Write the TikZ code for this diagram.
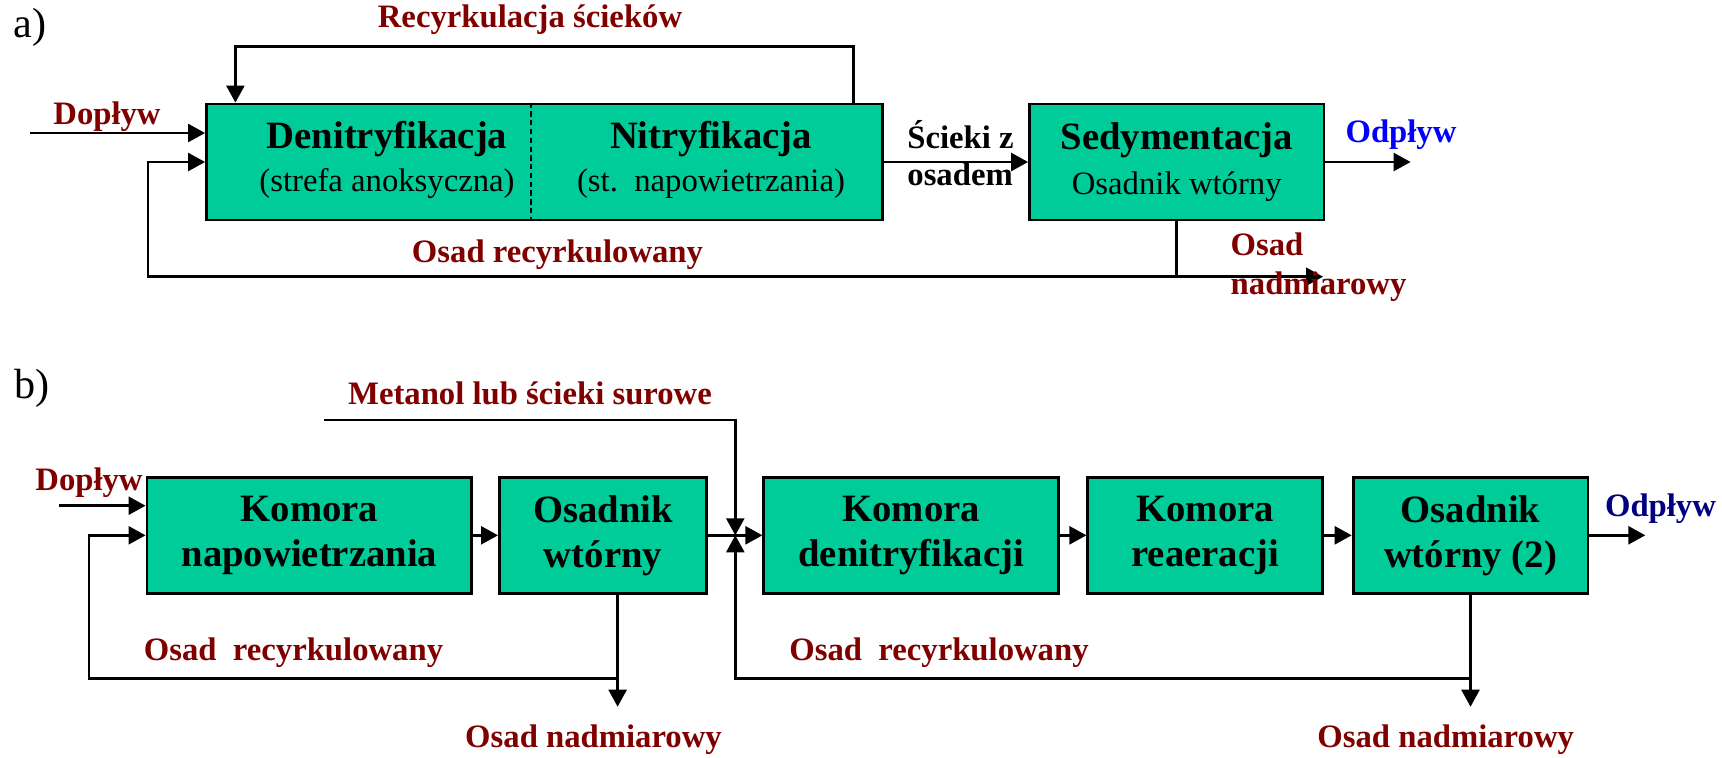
\documentclass[tikz,border=0pt]{standalone}
\usepackage{fontspec}
\setmainfont{Liberation Serif}
\usepackage{tikz}
\usetikzlibrary{arrows.meta,positioning,calc}
\definecolor{tankgreen}{RGB}{0,204,153}
\definecolor{lbl}{RGB}{128,0,0}
\definecolor{outblue}{RGB}{0,0,255}
\definecolor{outnavy}{RGB}{0,0,128}
\tikzstyle{arr}      =[-{Triangle[length=1.7mm,width=1.8mm]}, line width=0.7pt]
\tikzstyle{line}     =[line width=0.7pt]
\tikzstyle{tank}     =[draw, line width=0.8pt, fill=tankgreen, minimum height=1.16cm, align=center, inner sep=0pt,
                       font=\fontsize{11}{12.8}\selectfont\bfseries]
\tikzstyle{tanktxt}  =[align=center, inner sep=0pt, font=\fontsize{11}{12.4}\selectfont\bfseries]
\tikzstyle{lab}      =[text=lbl, inner sep=0pt, font=\fontsize{9.3}{11}\selectfont\bfseries]
\newcommand{\subtxt}{\mdseries\fontsize{9.3}{11}\selectfont}

\begin{document}
\begin{tikzpicture}[x=0.01cm, y=-0.01cm]
  \useasboundingbox (0,0) rectangle (1722,757);

  % ── a) ─────────────────────────────────────────────────────────────────────
  \node[inner sep=0pt, font=\fontsize{12}{14}\selectfont] (capA) at (30,27) {a)};

  \node[tank, minimum width=6.756cm] (reactor) at (544.5,162) {};
  \coordinate (split) at (531,162);
  \draw[dash pattern=on 1.5pt off 1pt, line width=0.6pt] (split |- reactor.north) -- (split |- reactor.south);
  \node[tanktxt] (deni)  at (387,160) {Denitryfikacja\\{\subtxt (strefa anoksyczna)}};
  \node[tanktxt] (nitri) at (711,160) {Nitryfikacja\\{\subtxt (st.\ \ napowietrzania)}};

  \node[tank, minimum width=2.943cm] (sed) at (1176.75,162) {Sedymentacja\\{\subtxt Osadnik wtórny}};

  \coordinate (inA)   at (30,133);
  \coordinate (recL)  at (235.4,46.7);
  \coordinate (recR)  at (853.6,46.7);
  \coordinate (jA)    at (1176.5,276.7);
  \coordinate (retA)  at (148,276.7);
  \coordinate (excA)  at (1323,276.7);
  \coordinate (outA)  at (1410.6,162);

  \draw[arr] (inA) -- (inA -| reactor.west);
  \draw[arr] (recR |- reactor.north) -- (recR) -- (recL) -- (recL |- reactor.north);
  \draw[arr] (reactor.east) -- (sed.west);
  \draw[arr] (sed.east) -- (outA);
  \draw[line] (jA |- sed.south) -- (jA);
  \draw[arr] (jA) -- (retA) |- (reactor.west);
  \draw[arr] (jA) -- (excA);

  \node[lab] (recLab) at (530,20) {Recyrkulacja ścieków};
  \node[lab] (inLabA) at (107,117) {Dopływ};
  \node[lab] (retLabA) at (557.5,255) {Osad recyrkulowany};
  \node[lab, text=black, align=left, anchor=west, font=\fontsize{9.3}{10.4}\selectfont\bfseries]
    (midLab) at (906.7,153) {Ścieki z\\osadem};
  \node[lab, text=outblue] (outLabA) at (1401,135) {Odpływ};
  \node[lab, align=left, anchor=west, font=\fontsize{9.3}{11}\selectfont\bfseries]
    (excLabA) at (1230,267) {Osad\\nadmiarowy};

  % ── b) ─────────────────────────────────────────────────────────────────────
  \node[inner sep=0pt, font=\fontsize{12}{14}\selectfont] (capB) at (32,388) {b)};

  \node[tank, minimum width=3.247cm] (aer)   at (309.4,535.3)  {Komora\\napowietrzania};
  \node[tank, minimum width=2.070cm] (clar1) at (603,535.3)    {Osadnik\\wtórny};
  \node[tank, minimum width=2.946cm] (denit) at (911.2,535.3)  {Komora\\denitryfikacji};
  \node[tank, minimum width=2.346cm] (reaer) at (1205.2,535.3) {Komora\\reaeracji};
  \node[tank, minimum width=2.347cm] (clar2) at (1470.5,535.3) {Osadnik\\wtórny (2)};

  \coordinate (inB)   at (59.4,505.7);
  \coordinate (metL)  at (323.5,420);
  \coordinate (metR)  at (735.3,420);
  \coordinate (jB)    at (735.3,535.3);
  \coordinate (jB1)   at (617.6,678.3);
  \coordinate (retB1) at (88.8,678.3);
  \coordinate (exB1)  at (617.6,706.7);
  \coordinate (jB2)   at (1470.5,678.3);
  \coordinate (retB2) at (735.3,678.3);
  \coordinate (exB2)  at (1470.5,706.7);
  \coordinate (outB)  at (1645.3,535.3);

  \draw[arr] (inB) -- (inB -| aer.west);
  \draw[arr] (aer) -- (clar1);
  \draw[arr] (clar1.east) -- (denit.west);
  \draw[arr] (denit) -- (reaer);
  \draw[arr] (reaer) -- (clar2);
  \draw[arr] (clar2.east) -- (outB);
  \draw[arr] (metL) -- (metR) -- (jB);
  \draw[arr] (jB1 |- clar1.south) -- (exB1);
  \draw[arr] (jB1) -- (retB1) |- (aer.west);
  \draw[arr] (clar2.south) -- (exB2);
  \draw[arr] (jB2) -- (retB2) -- (jB);

  \node[lab] (metLab)   at (530,393)     {Metanol lub ścieki surowe};
  \node[lab] (inLabB)   at (89,483)      {Dopływ};
  \node[lab] (retLabB1) at (293.5,653)   {Osad\ \ recyrkulowany};
  \node[lab] (excLabB1) at (593.5,740)   {Osad nadmiarowy};
  \node[lab] (retLabB2) at (939,653)     {Osad\ \ recyrkulowany};
  \node[lab] (excLabB2) at (1445.7,740)  {Osad nadmiarowy};
  \node[lab, text=outnavy] (outLabB) at (1660.5,508.3) {Odpływ};

\end{tikzpicture}
\end{document}
